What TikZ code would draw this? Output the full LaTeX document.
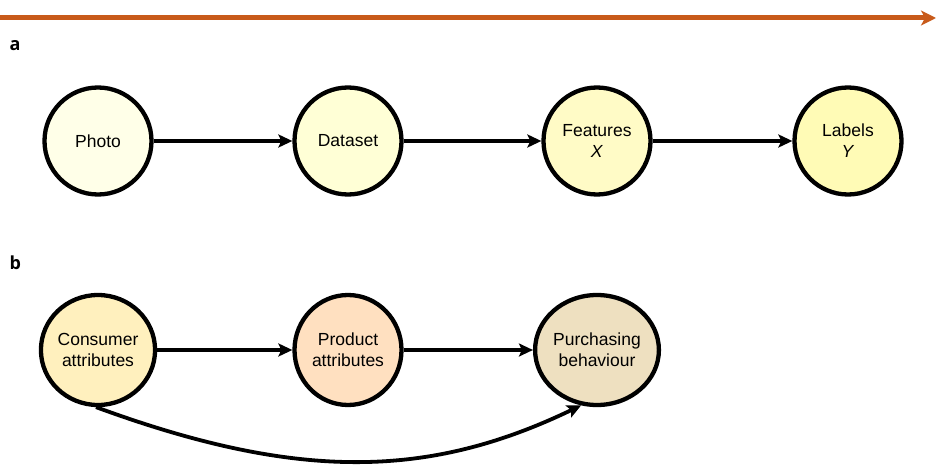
\documentclass[tikz,border=0pt]{standalone}
\usepackage{fontspec}
\setmainfont{Liberation Sans}
\newfontfamily\panelfont{Open Sans}
\usetikzlibrary{arrows.meta,shapes.geometric}
\definecolor{arrorange}{HTML}{C85A1A}
\definecolor{cPhoto}{HTML}{FFFFE8}
\definecolor{cData}{HTML}{FFFFD6}
\definecolor{cFeat}{HTML}{FFFBC6}
\definecolor{cLab}{HTML}{FFFBB6}
\definecolor{cCons}{HTML}{FFF0BE}
\definecolor{cProd}{HTML}{FFE0C0}
\definecolor{cPurch}{HTML}{EEE0C0}
\tikzset{
  circnode/.style={circle, draw=black, line width=4.3pt, minimum size=107pt, inner sep=0pt, align=center, font=\fontsize{17.5}{21}\selectfont},
  ellnode/.style={ellipse, draw=black, line width=4.3pt, inner sep=0pt, align=center, minimum width=107pt, minimum height=110pt, font=\fontsize{17.5}{21}\selectfont},
  conn/.style={line width=3.8pt, -{Stealth[length=14pt,width=13pt,inset=3pt]}},
  panel/.style={font=\panelfont\fontsize{18}{21}\selectfont\bfseries, anchor=west}
}
\begin{document}
\begin{tikzpicture}[x=1pt,y=-1pt]
\useasboundingbox (0,0) rectangle (939,465);
\coordinate (ts) at (0,18);
\coordinate (te) at (936,18);
\draw[arrorange, line width=5pt, -{Stealth[length=15pt,width=15pt,inset=4pt]}] (ts) -- (te);
\node[panel] (la) at (6,46) {a};
\node[panel] (lb) at (6,263) {b};
\node[circnode, fill=cPhoto] (photo) at (98,141) {Photo};
\node[circnode, fill=cData] (data) at (348,141) {Dataset};
\node[circnode, fill=cFeat] (feat) at (597,141) {Features\\\textit{X}};
\node[circnode, fill=cLab] (lab) at (848,141) {Labels\\\textit{Y}};
\draw[conn] (photo) -- (data);
\draw[conn] (data) -- (feat);
\draw[conn] (feat) -- (lab);
\node[ellnode, fill=cCons] (cons) at (98,350) {Consumer\\attributes};
\node[ellnode, fill=cProd] (prod) at (348,350) {Product\\attributes};
\node[ellnode, fill=cPurch] (purch) at (597,350) {Purchasing\\behaviour};
\draw[conn] (cons) -- (prod);
\draw[conn] (prod) -- (purch);
\draw[conn] (cons.-92) .. controls (300,482) and (430,478) .. (purch.-106);
\end{tikzpicture}
\end{document}
